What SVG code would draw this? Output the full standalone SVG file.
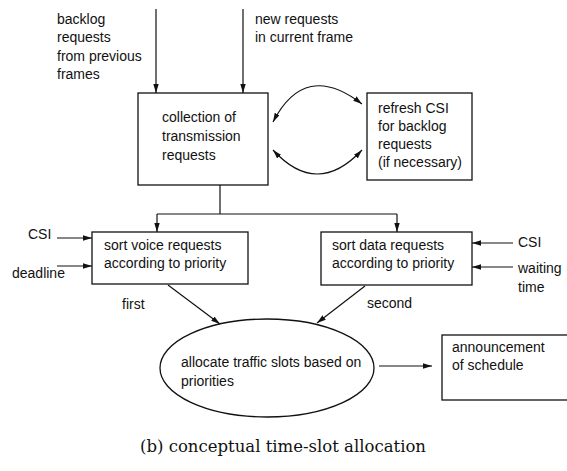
<svg xmlns="http://www.w3.org/2000/svg" width="567" height="471" viewBox="0 0 567 471">
  <style>
    .box { fill: #fff; stroke: #111; stroke-width: 1.3; }
    .line { fill: none; stroke: #111; stroke-width: 1.2; }
    .arr { marker-end: url(#head); }
    .both { marker-start: url(#head); marker-end: url(#head); }
    text { font-family: "Liberation Sans", Arial, sans-serif; font-size: 14px; fill: #111; }
    .cap { font-family: "DejaVu Serif", "Liberation Serif", serif; font-size: 16.5px; }
  </style>
  <defs>
    <marker id="head" viewBox="0 0 10 6" refX="10" refY="3" markerWidth="9" markerHeight="5.4" markerUnits="userSpaceOnUse" orient="auto-start-reverse">
      <path d="M0,0 L10,3 L0,6 Z" fill="#111"/>
    </marker>
  </defs>

  <!-- input labels -->
  <g id="backlog-label">
    <text x="57" y="24">backlog</text>
    <text x="57" y="42">requests</text>
    <text x="57" y="61">from previous</text>
    <text x="57" y="79">frames</text>
  </g>
  <g id="new-label">
    <text x="255" y="24">new requests</text>
    <text x="255" y="42">in current frame</text>
  </g>

  <g id="collection">
    <rect class="box" x="138" y="93" width="130" height="92"/>
    <text x="162" y="122">collection of</text>
    <text x="162" y="141">transmission</text>
    <text x="162" y="160">requests</text>
  </g>

  <g id="refresh">
    <rect class="box" x="367" y="93" width="105" height="87"/>
    <text x="378" y="113">refresh CSI</text>
    <text x="378" y="131">for backlog</text>
    <text x="378" y="149">requests</text>
    <text x="378" y="167">(if necessary)</text>
  </g>

  <g id="voice">
    <rect class="box" x="92" y="232" width="156" height="52"/>
    <text x="104" y="250">sort voice requests</text>
    <text x="104" y="268">according to priority</text>
  </g>

  <g id="data">
    <rect class="box" x="321" y="232" width="151" height="53"/>
    <text x="332" y="250">sort data requests</text>
    <text x="332" y="268">according to priority</text>
  </g>

  <g id="voice-inputs">
    <text x="28" y="239">CSI</text>
    <text x="12" y="278">deadline</text>
  </g>
  <g id="data-inputs">
    <text x="518" y="247">CSI</text>
    <text x="518" y="273">waiting</text>
    <text x="518" y="292">time</text>
  </g>

  <g id="order-labels">
    <text x="122" y="309">first</text>
    <text x="367" y="308">second</text>
  </g>

  <g id="allocate">
    <ellipse class="box" cx="267" cy="368" rx="107" ry="49"/>
    <text x="181" y="367">allocate traffic slots based on</text>
    <text x="181" y="386">priorities</text>
  </g>

  <g id="announcement">
    <rect class="box" x="442" y="335" width="140" height="65"/>
    <text x="452" y="352">announcement</text>
    <text x="452" y="370">of schedule</text>
  </g>

  <g id="connectors">
    <line class="line arr" x1="156" y1="9" x2="156" y2="93"/>
    <line class="line arr" x1="243" y1="9" x2="243" y2="93"/>
    <polyline class="line" points="220,185 220,214"/>
    <polyline class="line arr" points="157,214 157,232"/>
    <polyline class="line" points="157,214 397,214"/>
    <polyline class="line arr" points="397,214 397,232"/>
    <path class="line both" d="M273,122 Q305,60 362,104"/>
    <path class="line both" d="M273,150 Q317,198 362,150"/>
    <line class="line arr" x1="57" y1="238" x2="92" y2="238"/>
    <line class="line arr" x1="57" y1="266" x2="92" y2="266"/>
    <line class="line arr" x1="513" y1="243" x2="472" y2="243"/>
    <line class="line arr" x1="513" y1="267" x2="472" y2="267"/>
    <line class="line arr" x1="168" y1="285" x2="220" y2="324"/>
    <line class="line arr" x1="365" y1="286" x2="317" y2="323"/>
    <line class="line arr" x1="379" y1="366" x2="432" y2="366"/>
  </g>

  <text class="cap" x="283" y="452" text-anchor="middle">(b) conceptual time-slot allocation</text>
</svg>
